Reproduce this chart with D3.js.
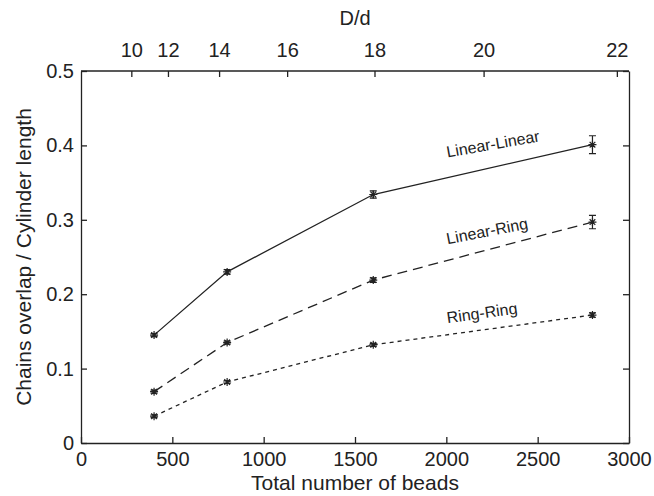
<!DOCTYPE html>
<html>
<head>
<meta charset="utf-8">
<script src="https://cdn.jsdelivr.net/npm/d3@7"></script>
<style>
  body { margin: 0; background: #fff; }
  text { font-family: "Liberation Sans", Arial, sans-serif; fill: #222; }
</style>
</head>
<body>
<div id="chart"></div>
<script>
// bead counts and measured overlap ratios
const beads = [400, 800, 1600, 2800];
const linLin = [0.145, 0.230, 0.334, 0.401];
const linLinErr = [0.002, 0.003, 0.005, 0.012];
const linRing = [0.069, 0.135, 0.219, 0.297];
const linRingErr = [0.002, 0.002, 0.003, 0.009];
const ringRing = [0.036, 0.082, 0.132, 0.172];
const ringRingErr = [0.002, 0.002, 0.002, 0.003];

const beadTicks = [0, 500, 1000, 1500, 2000, 2500, 3000];
const overlapTicks = [0, 0.1, 0.2, 0.3, 0.4, 0.5];
const ratioTicks = [10, 12, 14, 16, 18, 20, 22];
// N = k * (D/d)^3
const beadsPerCube = 0.2755;

const series = [
    {name: "Linear-Linear", values: linLin, err: linLinErr, dash: null, label: {x: 2255, y: 0.402, rot: -10}},
    {name: "Linear-Ring", values: linRing, err: linRingErr, dash: "10,6", label: {x: 2223, y: 0.285, rot: -11}},
    {name: "Ring-Ring", values: ringRing, err: ringRingErr, dash: "4,4", label: {x: 2195, y: 0.175, rot: -8}}
];

const W = 654, H = 496;
const margin = {top: 71, right: 25, bottom: 53, left: 81};
const width = W - margin.left - margin.right,
    height = H - margin.top - margin.bottom;

const svg = d3.select("#chart").append("svg")
    .attr("width", W)
    .attr("height", H);
const g = svg.append("g")
    .attr("transform", `translate(${margin.left},${margin.top})`);

const x = d3.scaleLinear().domain([0, 3000]).range([0, width]);
const y = d3.scaleLinear().domain([0, 0.5]).range([height, 0]);
const dMax = Math.cbrt(3000 / beadsPerCube);
const xTop = d3.scalePow().exponent(3).domain([0, dMax]).range([0, width]);

function styleAxis(sel) {
    sel.selectAll("path, line").attr("stroke", "#222").attr("stroke-width", 1.3);
    sel.selectAll("text").style("font-size", "20px").attr("fill", "#222");
}

g.append("g")
    .attr("transform", `translate(0,${height})`)
    .call(d3.axisBottom(x).tickValues(beadTicks).tickFormat(d3.format("d")).tickSize(-6).tickSizeOuter(0).tickPadding(9))
    .call(styleAxis);

g.append("g")
    .call(d3.axisLeft(y).tickValues(overlapTicks).tickFormat(d3.format("~g")).tickSize(-6).tickSizeOuter(0).tickPadding(7))
    .call(styleAxis);

g.append("g")
    .attr("transform", `translate(${width},0)`)
    .call(d3.axisRight(y).tickValues(overlapTicks).tickSize(-6).tickSizeOuter(0).tickFormat(""))
    .call(styleAxis);

g.append("g")
    .call(d3.axisTop(xTop).tickValues(ratioTicks).tickSize(-6).tickSizeOuter(0).tickPadding(14))
    .call(styleAxis)
    .call(a => a.select(".domain").attr("d", `M0,0H${width}`));

// axis titles
svg.append("text")
    .attr("x", margin.left + width / 2)
    .attr("y", 25)
    .attr("text-anchor", "middle")
    .style("font-size", "20px")
    .text("D/d");

svg.append("text")
    .attr("x", margin.left + width / 2)
    .attr("y", 490)
    .attr("text-anchor", "middle")
    .style("font-size", "21px")
    .text("Total number of beads");

svg.append("text")
    .attr("transform", `translate(31,${margin.top + height / 2}) rotate(-90)`)
    .attr("text-anchor", "middle")
    .style("font-size", "21px")
    .text("Chains overlap / Cylinder length");

const line = d3.line()
    .x((d, i) => x(beads[i]))
    .y(d => y(d));

// 8 arm star marker
function starPath(r) {
    const a = r * Math.SQRT1_2;
    return `M${-r},0H${r}M0,${-r}V${r}M${-a},${-a}L${a},${a}M${-a},${a}L${a},${-a}`;
}

for (const s of series) {
    g.append("path")
        .datum(s.values)
        .attr("d", line)
        .attr("fill", "none")
        .attr("stroke", "#222")
        .attr("stroke-width", 1.3)
        .attr("stroke-dasharray", s.dash);

    const pts = g.append("g").selectAll("g")
        .data(s.values.map((v, i) => ({n: beads[i], v: v, e: s.err[i]})))
        .enter().append("g")
        .attr("stroke", "#222")
        .attr("stroke-width", 1.2);

    pts.append("path")
        .attr("d", d => `M${x(d.n)},${y(d.v + d.e)}V${y(d.v - d.e)}` +
            `M${x(d.n) - 3.5},${y(d.v + d.e)}h7M${x(d.n) - 3.5},${y(d.v - d.e)}h7`)
        .attr("fill", "none");

    pts.append("path")
        .attr("transform", d => `translate(${x(d.n)},${y(d.v)})`)
        .attr("d", starPath(4));

    g.append("text")
        .attr("transform", `translate(${x(s.label.x)},${y(s.label.y)}) rotate(${s.label.rot})`)
        .attr("text-anchor", "middle")
        .attr("dy", "0.35em")
        .style("font-size", "16px")
        .text(s.name);
}
</script>
</body>
</html>
